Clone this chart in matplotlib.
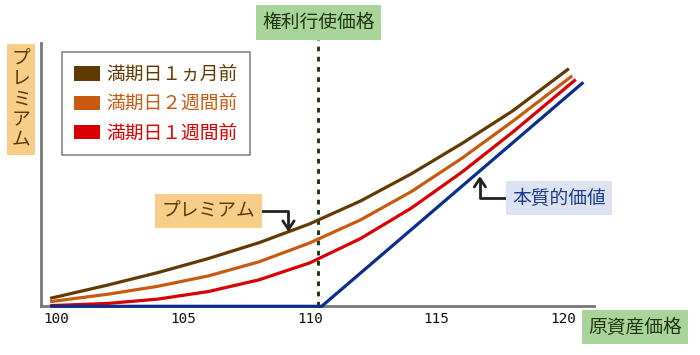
import matplotlib
matplotlib.use("Agg")
import matplotlib.pyplot as plt
from matplotlib.patches import Patch
from matplotlib.transforms import blended_transform_factory

plt.rcParams['font.family'] = ['Noto Sans CJK JP', 'DejaVu Sans']

# underlying price (x)
price = [99.76, 100, 102, 104, 106, 108, 110, 112, 114, 116, 118]
# option premium, one list per time to expiry
prem_1m = [0.37, 0.43, 0.97, 1.55, 2.20, 2.93, 3.80, 4.85, 6.10, 7.50, 9.00, 10.95]
prem_2w = [0.21, 0.25, 0.55, 0.92, 1.40, 2.05, 2.92, 3.98, 5.28, 6.82, 8.52, 10.62]
prem_1w = [0.03, 0.04, 0.13, 0.33, 0.68, 1.22, 2.00, 3.12, 4.52, 6.18, 8.02, 10.45]
end_price = [120.22, 120.35, 120.49]
# intrinsic value
intr_x = [99.76, 110.47, 120.79]
intr_y = [0, 0, 10.32]
strike = 110.34

labels = ['満期日１ヵ月前', '満期日２週間前', '満期日１週間前']
colors = ['#603a00', '#c85a10', '#d80000']
blue = '#0b2d8c'
xticks = [100, 105, 110, 115, 120]

fig = plt.figure(figsize=(7, 3.55), dpi=100)
ax = fig.add_axes([41/700, 1 - 306.3/355, 553/700, 263.3/355])

for prem, end, c in zip([prem_1m, prem_2w, prem_1w], end_price, colors):
    ax.plot(price + [end], prem, color=c, lw=2.3, solid_capstyle='butt', zorder=3)
ax.plot(intr_x, intr_y, color=blue, lw=2.3, solid_capstyle='butt',
        clip_on=False, zorder=4)

ax.axvline(strike, ymin=0, ymax=1.012, color='#1b3a0b', lw=2.1,
           linestyle=(0, (1.6, 1.9)), clip_on=False, zorder=2)

ax.set_xlim(99.40, 121.21)
ax.set_ylim(0, 12.13)
for s in ['top', 'right']:
    ax.spines[s].set_visible(False)
for s in ['left', 'bottom']:
    ax.spines[s].set_color('#777777')
    ax.spines[s].set_linewidth(2)
ax.set_yticks([])
ax.set_xticks(xticks)
ax.set_xticklabels([str(t) for t in xticks], family='DejaVu Sans Mono',
                   fontsize=10.4, color='#111111')
ax.tick_params(axis='x', length=0, pad=4)

# legend
handles = [Patch(facecolor=c, edgecolor='none') for c in colors]
leg = ax.legend(handles, labels, loc='upper left',
                bbox_to_anchor=(21/553, (306.3-52)/263.3), borderaxespad=0,
                fontsize=13.5, handlelength=1.39, handleheight=0.8,
                handletextpad=0.32, labelspacing=0.43, borderpad=0.65,
                fancybox=False, framealpha=1, edgecolor='#888888')
leg.get_frame().set_linewidth(1.2)
for t, c in zip(leg.get_texts(), colors):
    t.set_color(c)

# axis captions
trans = blended_transform_factory(ax.transData, ax.transAxes)
ax.text(strike, (306.3-22.5)/263.3, '権利行使価格', transform=trans,
        ha='center', va='center', fontsize=13.5, color='#1f3512',
        bbox=dict(boxstyle='square,pad=0.35', fc='#a9d49a', ec='none'))
fig.text(635/700, 1 - 327/355, '原資産価格', ha='center', va='center',
         fontsize=13.5, color='#1f3512',
         bbox=dict(boxstyle='square,pad=0.35', fc='#a9d49a', ec='none'))
fig.text(21/700, 1 - 99.5/355, '\n'.join('プレミアム'), ha='center',
         va='center', fontsize=13.5, color='#5a3a0a', linespacing=0.95,
         bbox=dict(boxstyle='square,pad=0.25', fc='#f7cd88', ec='none'))

# callouts
arrow = dict(arrowstyle='->,head_length=0.45,head_width=0.3', color='#222222',
             lw=2, shrinkA=0, shrinkB=0,
             connectionstyle='angle,angleA=0,angleB=90,rad=0')
ax.annotate('プレミアム', xy=(109.16, 3.43), xytext=(106.01, 4.39),
            ha='center', va='center', fontsize=13.5, color='#5a3a0a',
            bbox=dict(boxstyle='square,pad=0.35', fc='#f7cd88', ec='none'),
            arrowprops=arrow)
ax.annotate('本質的価値', xy=(116.71, 6.0), xytext=(119.83, 4.99),
            ha='center', va='center', fontsize=13.5, color='#1b3a8a',
            bbox=dict(boxstyle='square,pad=0.35', fc='#dde2f1', ec='none'),
            arrowprops=arrow, annotation_clip=False)

fig.savefig('out.png', dpi=100)
